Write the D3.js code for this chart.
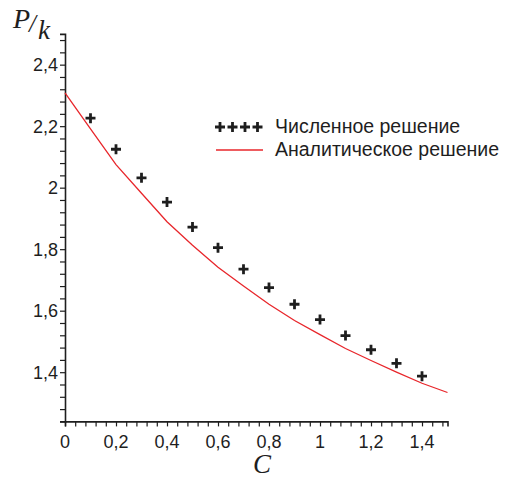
<!DOCTYPE html>
<html>
<head>
<meta charset="utf-8">
<script src="https://cdn.jsdelivr.net/npm/d3@7"></script>
<style>
  body { margin: 0; background: #fff; }
  svg { display: block; }
</style>
</head>
<body>
<div id="chart"></div>
<script>
// numeric solution (crosses)
let numC = [0.1, 0.2, 0.3, 0.4, 0.5, 0.6, 0.7, 0.8, 0.9, 1.0, 1.1, 1.2, 1.3, 1.4]
let numP = [2.226, 2.125, 2.032, 1.953, 1.872, 1.805, 1.735, 1.675, 1.621, 1.571, 1.519, 1.473, 1.429, 1.387]

// analytic solution (red line)
let anC = [0, 0.1, 0.2, 0.3, 0.4, 0.5, 0.6, 0.7, 0.8, 0.9, 1.0, 1.1, 1.2, 1.3, 1.4, 1.5]
let anP = [2.308, 2.191, 2.075, 1.982, 1.889, 1.813, 1.741, 1.680, 1.621, 1.568, 1.522, 1.477, 1.438, 1.400, 1.364, 1.334]

let xTicks = [0, 0.2, 0.4, 0.6, 0.8, 1.0, 1.2, 1.4]
let yTicks = [1.4, 1.6, 1.8, 2.0, 2.2, 2.4]
let legendLabels = ['Численное решение', 'Аналитическое решение']

const W = 505, H = 479
const red = '#e8262b'
const ink = '#1e1e1e'
const sans = 'Liberation Sans, Arial, sans-serif'
const serif = 'Liberation Serif, Times New Roman, serif'
const fmt = v => d3.format('.1f')(v).replace('.0', '').replace('.', ',')

let svg = d3.select('#chart').append('svg')
  .attr('width', W)
  .attr('height', H)

let x = d3.scaleLinear().domain([0, 1.5]).range([65, 447.5])
let y = d3.scaleLinear().domain([1.24, 2.5]).range([421.4, 33.9])

// minor ticks every 0.04
let xMinor = d3.range(0, 1.5, 0.04)
let yMinor = d3.range(1.24, 2.5, 0.04)

let xAxis = d3.axisBottom(x).tickValues(xMinor).tickSize(5).tickFormat('')
let yAxis = d3.axisLeft(y).tickValues(yMinor).tickSize(5).tickFormat('')

let gx = svg.append('g').attr('transform', 'translate(0,' + y(1.24) + ')').call(xAxis)
let gy = svg.append('g').attr('transform', 'translate(' + x(0) + ',0)').call(yAxis)

for (let g of [gx, gy]) {
  g.select('.domain').attr('stroke', ink).attr('stroke-width', 1.6)
  g.selectAll('.tick line').attr('stroke', ink).attr('stroke-width', 1.2)
}

// tick labels
svg.append('g').selectAll('text')
  .data(xTicks)
  .enter().append('text')
  .attr('x', d => x(d))
  .attr('y', 448)
  .attr('text-anchor', 'middle')
  .style('font-family', sans)
  .style('font-size', '18px')
  .attr('fill', ink)
  .text(fmt)

svg.append('g').selectAll('text')
  .data(yTicks)
  .enter().append('text')
  .attr('x', 58)
  .attr('y', d => y(d))
  .attr('dy', '0.36em')
  .attr('text-anchor', 'end')
  .style('font-family', sans)
  .style('font-size', '18px')
  .attr('fill', ink)
  .text(fmt)

// axis titles
svg.append('text')
  .attr('x', 262).attr('y', 473)
  .attr('text-anchor', 'middle')
  .style('font-family', serif).style('font-style', 'italic').style('font-size', '27px')
  .attr('fill', ink)
  .text('C')

let pk = svg.append('text')
  .style('font-family', serif).style('font-style', 'italic')
  .attr('fill', ink)
pk.append('tspan').attr('x', 13).attr('y', 28).style('font-size', '28px').text('P')
pk.append('tspan').attr('x', 29).attr('y', 32).style('font-size', '25px').text('/')
pk.append('tspan').attr('x', 38).attr('y', 39).style('font-size', '27px').text('k')

// analytic line
let lineGen = d3.line()
  .x(d => x(d[0]))
  .y(d => y(d[1]))

svg.append('path')
  .datum(d3.zip(anC, anP))
  .attr('d', lineGen)
  .attr('fill', 'none')
  .attr('stroke', red)
  .attr('stroke-width', 1.3)

// crosses
function drawCross(g, cx, cy) {
  g.append('path')
    .attr('d', 'M' + (cx - 5) + ',' + cy + 'H' + (cx + 5) + 'M' + cx + ',' + (cy - 5) + 'V' + (cy + 5))
    .attr('stroke', ink)
    .attr('stroke-width', 2.8)
}

let pts = svg.append('g')
d3.zip(numC, numP).forEach(d => drawCross(pts, x(d[0]), y(d[1])))

// legend
let lg = svg.append('g')
;[220, 232.5, 245, 257.5].forEach(cx => drawCross(lg, cx, 127))
lg.append('line')
  .attr('x1', 216).attr('x2', 263)
  .attr('y1', 150).attr('y2', 150)
  .attr('stroke', red).attr('stroke-width', 1.3)

lg.selectAll('text.lbl')
  .data(legendLabels)
  .enter().append('text')
  .attr('class', 'lbl')
  .attr('x', 275)
  .attr('y', (d, i) => 133 + i * 23)
  .style('font-family', sans)
  .style('font-size', '19.5px')
  .attr('fill', ink)
  .text(d => d)
</script>
</body>
</html>
